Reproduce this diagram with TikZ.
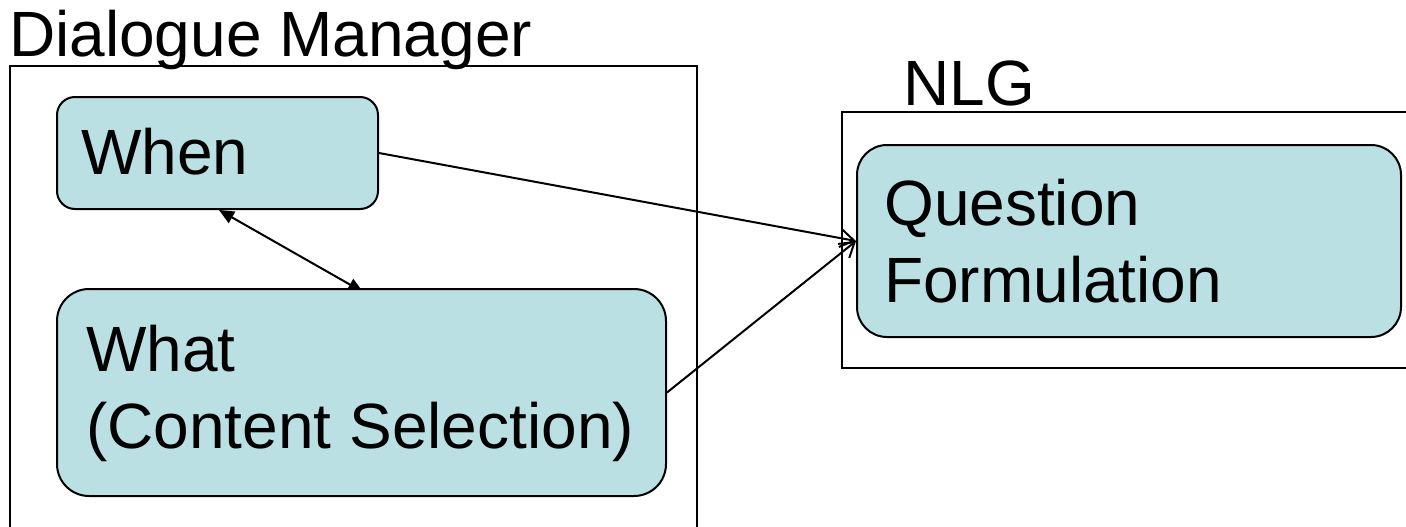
\documentclass[tikz,border=0pt]{standalone}
\usepackage{fontspec}
\setmainfont{Liberation Sans}
\usetikzlibrary{arrows.meta,backgrounds}
\definecolor{boxfill}{RGB}{187,224,227}
\begin{document}
\begin{tikzpicture}[x=1pt,y=-1pt,
  groupbox/.style={draw, line width=1.8pt, inner sep=0pt, anchor=north west},
  stagebox/.style={draw, line width=2pt, fill=boxfill, inner sep=0pt, anchor=north west},
  caption/.style={inner sep=0pt, anchor=base west, align=left,
    font=\fontsize{64}{76.5}\selectfont},
  flow/.style={line width=2pt, -{Straight Barb[length=14pt,width=18pt]}},
  link/.style={line width=2pt,
    {Triangle[length=15pt,width=13pt]}-{Triangle[length=15pt,width=13pt]}}]
\useasboundingbox (0,0) rectangle (1406,527);
\clip (0,0) rectangle (1406,527);

% groups
\node[groupbox, minimum width=687pt, minimum height=500pt] (dm) at (9,65) {};
\node[caption] (dmtitle) at (9,57) {Dialogue Manager};
\node[groupbox, minimum width=600pt, minimum height=256pt] (nlg) at (841,111) {};
\node[caption] (nlgtitle) at (903,105) {NLG};

% stages (multi-line captions are placed by their last baseline)
\node[stagebox, rounded corners=18pt, minimum width=321pt, minimum height=112pt] (when) at (56,96) {};
\node[caption] (whentext) at (81,174) {When};
\node[stagebox, rounded corners=32pt, minimum width=609pt, minimum height=207pt] (what) at (56,288) {};
\node[caption] (whattext) at (86,448) {What\\(Content Selection)};
\node[stagebox, rounded corners=30pt, minimum width=544pt, minimum height=192pt] (qf) at (856,144) {};
\node[caption] (qftext) at (884,302) {Question\\Formulation};

% connectors
\begin{scope}[on background layer]
  \draw[link] ([xshift=1.5pt]when.south) -- ([xshift=1.5pt,yshift=-4pt]what.north);
\end{scope}
\draw[flow] (when.east) -- (qf.west);
\draw[flow] (what.east) -- (qf.west);
\end{tikzpicture}
\end{document}
